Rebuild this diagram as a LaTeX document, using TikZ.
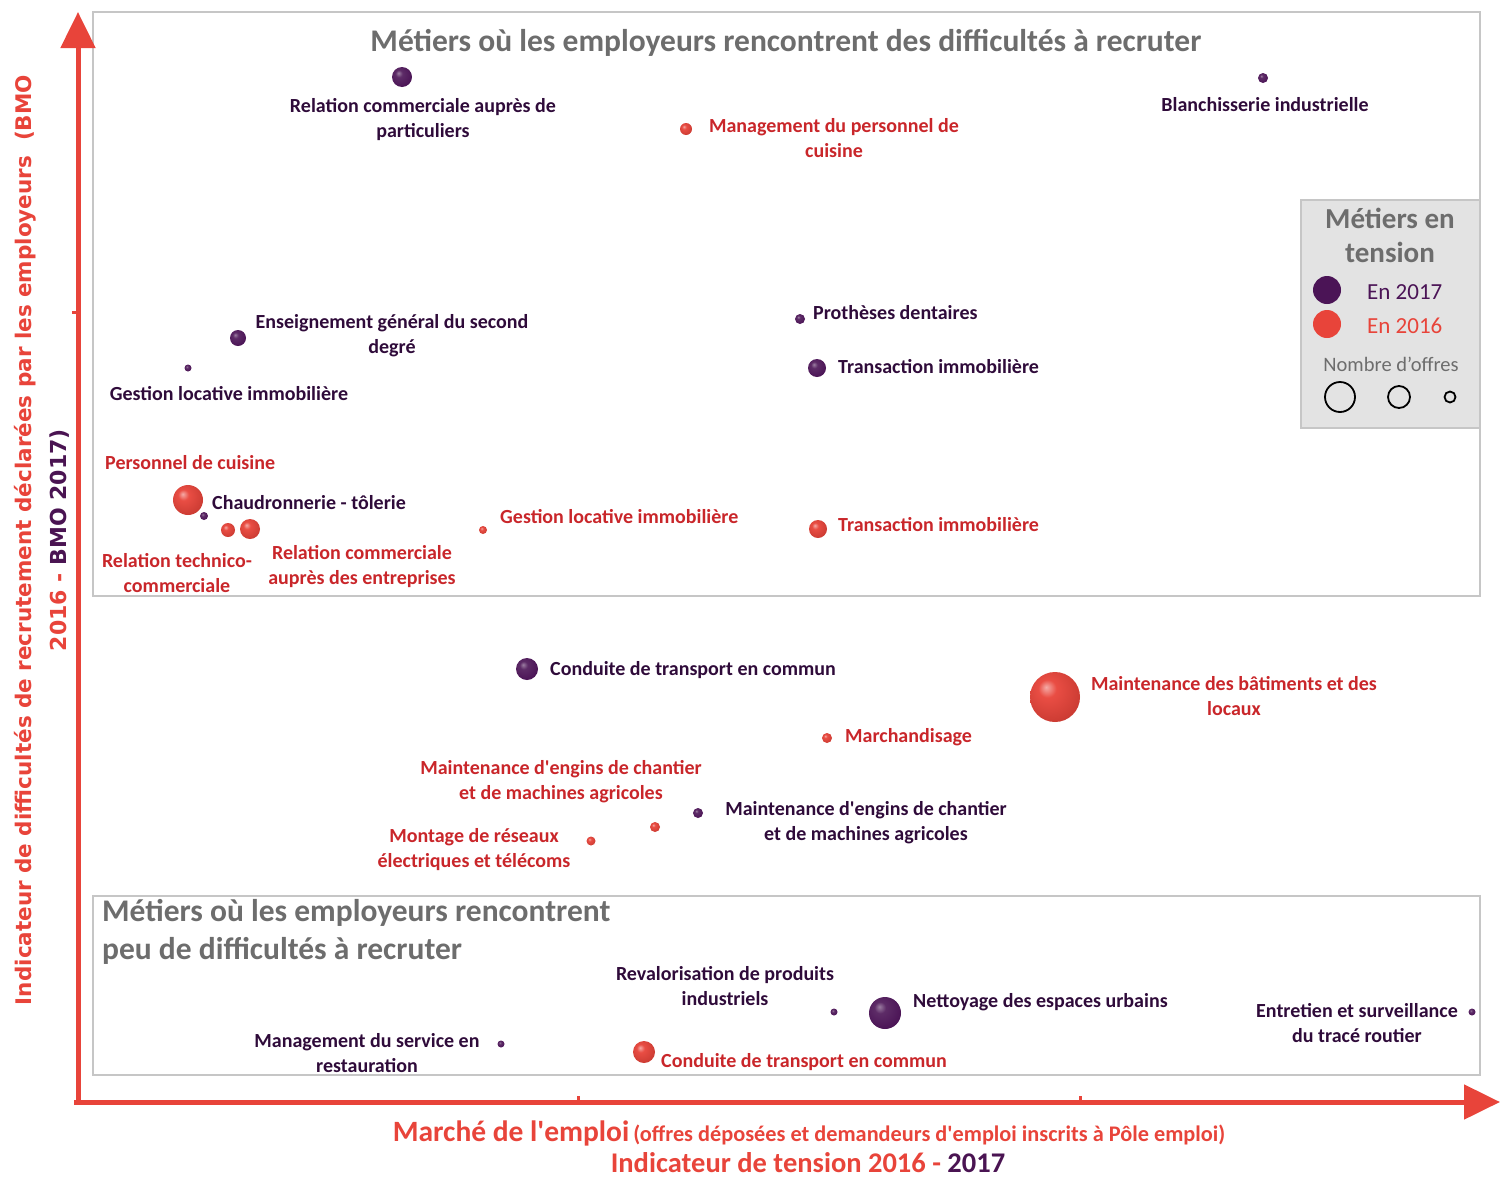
\documentclass[tikz,border=0pt]{standalone}
\usepackage{fontspec}
\setmainfont{Carlito}[Ligatures=TeXOff]
\newfontfamily\verd{DejaVu Sans}
\usetikzlibrary{arrows.meta}
\definecolor{axred}{HTML}{E8443A}
\definecolor{lblred}{HTML}{C9262A}
\definecolor{lblpur}{HTML}{2F0B3A}
\definecolor{bpur}{HTML}{4B1456}
\definecolor{bred}{HTML}{E8443A}
\definecolor{ttlgray}{HTML}{6D6D6D}
\definecolor{boxgray}{HTML}{C6C6C6}
\definecolor{legfill}{HTML}{E3E3E3}
\definecolor{axpur}{HTML}{4A1452}
\pgfdeclareradialshading{redball}{\pgfpoint{-9bp}{10bp}}{color(0bp)=(bred!45!white); color(9bp)=(bred!95!white); color(30bp)=(bred!88!black); color(44bp)=(bred!65!black); color(50bp)=(bred!55!black); color(60bp)=(bred!55!black)}
\pgfdeclareradialshading{purball}{\pgfpoint{-9bp}{10bp}}{color(0bp)=(bpur!55!white); color(9bp)=(bpur!90!white); color(30bp)=(bpur); color(44bp)=(bpur!70!black); color(50bp)=(bpur!55!black); color(60bp)=(bpur!55!black)}
\begin{document}
\begin{tikzpicture}[x=1pt,y=-1pt,
  axis/.style={draw=axred, line width=5pt, -{Triangle[width=34pt,length=36pt]}},
  frame/.style={draw=boxgray, line width=1.6pt},
  bp/.style={circle, inner sep=0pt, shading=purball, minimum size=#1},
  br/.style={circle, inner sep=0pt, shading=redball, minimum size=#1},
  lp/.style={text=lblpur, font=\bfseries\fontsize{20}{25}\selectfont, align=center, inner sep=0pt},
  lr/.style={text=lblred, font=\bfseries\fontsize{20}{25}\selectfont, align=center, inner sep=0pt},
  ttl/.style={text=ttlgray, font=\bfseries\fontsize{31.5}{38}\selectfont, inner sep=0pt},
  legc/.style={circle, draw=black, line width=1.8pt, inner sep=0pt, minimum size=#1}
]
\useasboundingbox (0,0) rectangle (1506,1178);

% frames
\draw[frame] (93,12) rectangle (1480,596);
\draw[frame] (93,896) rectangle (1480,1075);

% axes
\coordinate (ytip) at (78,12);
\coordinate (xtip) at (1500,1102);
\draw[axis] (78,1104) -- (ytip);
\draw[axis] (74,1102) -- (xtip);
\draw[axred, line width=3pt] (72,312) -- (78,312);
\draw[axred, line width=3pt] (578,1096) -- (578,1102);
\draw[axred, line width=3pt] (1080,1096) -- (1080,1102);

% titles
\node[ttl] (t1) at (786,43) {Métiers où les employeurs rencontrent des difficultés à recruter};
\node[ttl, anchor=north west, align=left] (t2) at (102,899) {Métiers où les employeurs rencontrent\\peu de difficultés à recruter};

% axis labels
\node[rotate=90, text=axred, font=\verd\bfseries\fontsize{21.5}{24}\selectfont, inner sep=0pt] (ylab1) at (25,540) {Indicateur de difficultés de recrutement déclarées par les employeurs\ \ (BMO};
\node[rotate=90, font=\verd\bfseries\fontsize{22}{24}\selectfont, inner sep=0pt] (ylab2) at (60,540) {\textcolor{axred}{2016 -\ }\textcolor{axpur}{BMO 2017)}};
\node[text=axred, font=\bfseries, inner sep=0pt, anchor=base] (xlab1) at (809,1141) {{\fontsize{29.5}{30}\selectfont Marché de l'emploi}\, {\fontsize{22.3}{24}\selectfont (offres déposées et demandeurs d'emploi inscrits à Pôle emploi)}};
\node[font=\bfseries\fontsize{28.5}{30}\selectfont, inner sep=0pt, anchor=base] (xlab2) at (808,1172) {\textcolor{axred}{Indicateur de tension 2016 - }\textcolor{axpur}{2017}};

% legend
\draw[draw=boxgray, fill=legfill, line width=1.6pt] (1301,200) rectangle (1480,428);
\node[ttl, align=center, font=\bfseries\fontsize{29}{34}\selectfont] (lt) at (1390,235) {Métiers en\\tension};
\node[circle, fill=bpur, inner sep=0pt, minimum size=28pt] (lg1) at (1327,290) {};
\node[circle, fill=bred, inner sep=0pt, minimum size=28pt] (lg2) at (1327,324) {};
\node[text=bpur, font=\fontsize{23}{24}\selectfont, anchor=west, inner sep=0pt] (lgt1) at (1367,292) {En 2017};
\node[text=bred, font=\fontsize{23}{24}\selectfont, anchor=west, inner sep=0pt] (lgt2) at (1367,326) {En 2016};
\node[text=ttlgray, font=\fontsize{20.5}{22}\selectfont, inner sep=0pt] (lgn) at (1391,364) {Nombre d’offres};
\node[legc=30pt] (lc1) at (1340,397) {};
\node[legc=22pt] (lc2) at (1399,397) {};
\node[legc=11pt] (lc3) at (1450,397) {};

% ---------- 2017 (purple) ----------
\node[bp=20pt] (p1) at (402,77) {};
\node[lp] (p1l) at (423,120) {Relation commerciale auprès de\\particuliers};
\node[bp=10pt] (p2) at (1263,78) {};
\node[lp] (p2l) at (1265,105) {Blanchisserie industrielle};
\node[bp=16pt] (p3) at (238,338) {};
\node[lp] (p3l) at (392,336) {Enseignement général du second\\degré};
\node[bp=7pt] (p4) at (188,368) {};
\node[lp] (p4l) at (229,394) {Gestion locative immobilière};
\node[bp=10pt] (p5) at (800,319) {};
\node[lp, anchor=west] (p5l) at (813,313) {Prothèses dentaires};
\node[bp=18pt] (p6) at (817,368) {};
\node[lp, anchor=west] (p6l) at (838,367) {Transaction immobilière};
\node[bp=8pt] (p7) at (204,516) {};
\node[lp, anchor=west] (p7l) at (212,503) {Chaudronnerie - tôlerie};
\node[bp=22pt] (p8) at (527,669) {};
\node[lp, anchor=west] (p8l) at (550,670) {Conduite de transport en commun};
\node[bp=10pt] (p9) at (698,813) {};
\node[lp] (p9l) at (866,823) {Maintenance d'engins de chantier\\et de machines agricoles};
\node[bp=7pt] (p10) at (834,1012) {};
\node[lp] (p10l) at (725,986) {Revalorisation de produits\\industriels};
\node[bp=32pt] (p11) at (885,1013) {};
\node[lp, anchor=west] (p11l) at (913,1002) {Nettoyage des espaces urbains};
\node[bp=7pt] (p12) at (1472,1012) {};
\node[lp] (p12l) at (1357,1023) {Entretien et surveillance\\du tracé routier};
\node[bp=7pt] (p13) at (501,1044) {};
\node[lp] (p13l) at (367,1053) {Management du service en\\restauration};

% ---------- 2016 (red) ----------
\node[br=12pt] (r1) at (686,129) {};
\node[lr] (r1l) at (834,138) {Management du personnel de\\cuisine};
\node[br=30pt] (r2) at (188,500) {};
\node[lr, anchor=west] (r2l) at (105,463) {Personnel de cuisine};
\node[br=14pt] (r3) at (228,530) {};
\node[lr] (r3l) at (177,573) {Relation technico-\\commerciale};
\node[br=20pt] (r4) at (250,529) {};
\node[lr] (r4l) at (362,567) {Relation commerciale\\auprès des entreprises};
\node[br=8pt] (r5) at (483,530) {};
\node[lr, anchor=west] (r5l) at (500,517) {Gestion locative immobilière};
\node[br=18pt] (r6) at (818,529) {};
\node[lr, anchor=west] (r6l) at (838,525) {Transaction immobilière};
\node[br=50pt] (r7) at (1055,697) {};
\node[lr] (r7l) at (1234,696) {Maintenance des bâtiments et des\\locaux};
\node[br=10pt] (r8) at (827,738) {};
\node[lr, anchor=west] (r8l) at (845,737) {Marchandisage};
\node[br=10pt] (r9) at (655,827) {};
\node[lr] (r9l) at (561,782) {Maintenance d'engins de chantier\\et de machines agricoles};
\node[br=9pt] (r10) at (591,841) {};
\node[lr] (r10l) at (474,850) {Montage de réseaux\\électriques et télécoms};
\node[br=22pt] (r11) at (644,1052) {};
\node[lr, anchor=west] (r11l) at (661,1062) {Conduite de transport en commun};
\end{tikzpicture}
\end{document}
